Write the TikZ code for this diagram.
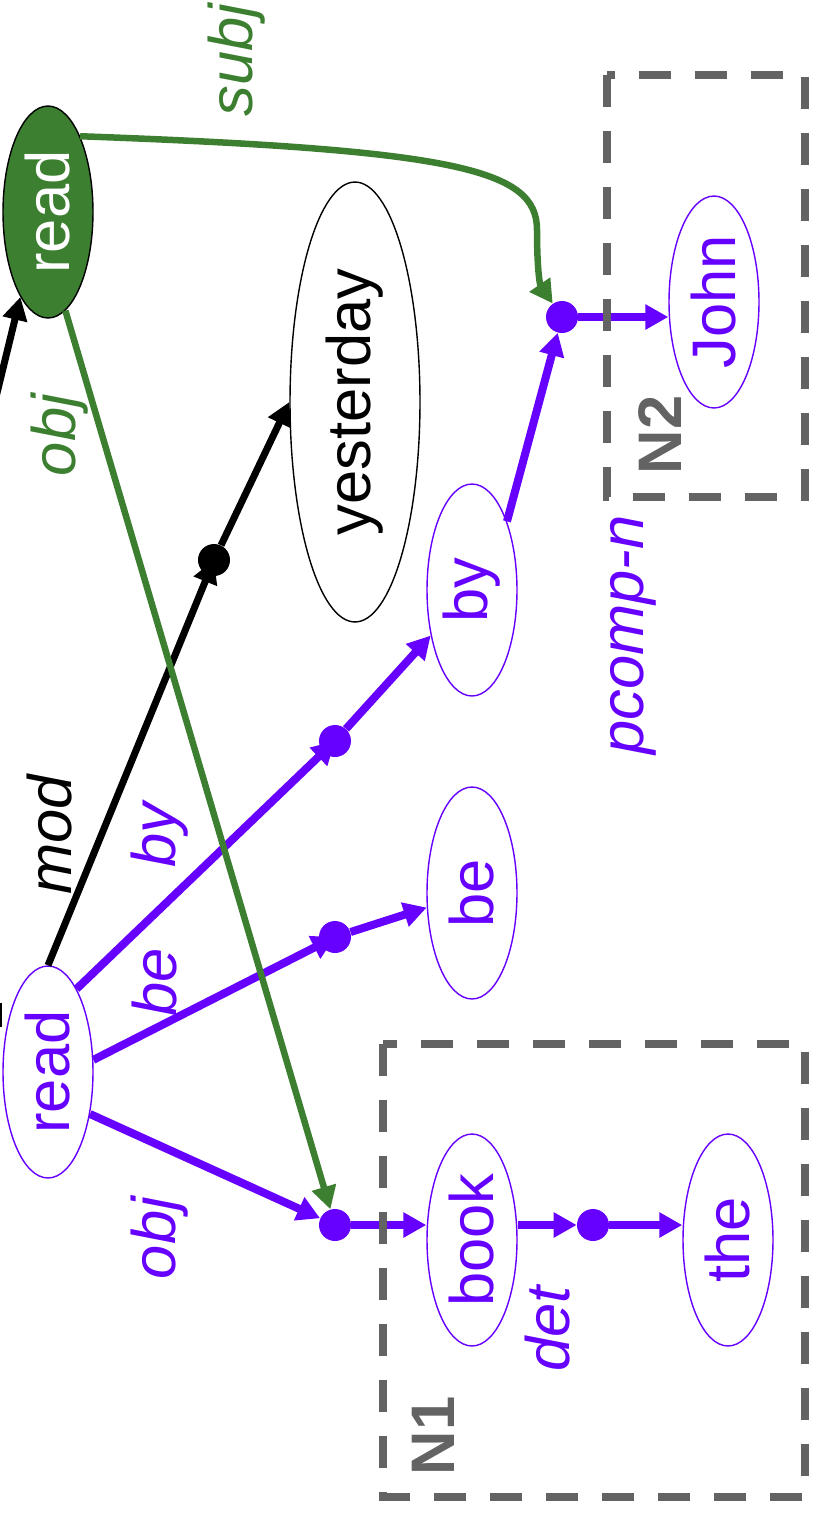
\documentclass[tikz,border=0pt]{standalone}
\usepackage{fontspec}
\setmainfont{Liberation Sans}
\usepackage{graphicx}
\usetikzlibrary{shapes.geometric,arrows.meta}

\definecolor{dpurple}{HTML}{6600FF}
\definecolor{dgreen}{HTML}{3D7F31}
\definecolor{dgray}{HTML}{636363}

\begin{document}
\begin{tikzpicture}[x=0.02cm,y=-0.02cm,
  word/.style={ellipse,draw=dpurple,line width=0.8pt,text=dpurple,inner sep=0pt,
    minimum width=1.8cm,minimum height=4.24cm,font=\fontsize{35}{42}\selectfont},
  hub/.style={circle,fill=dpurple,inner sep=0pt,minimum size=0.64cm},
  rel/.style={rotate=90,font=\fontsize{35}{42}\selectfont\itshape},
  dep/.style={line width=0.14cm,-{Triangle[length=0.46cm,width=0.48cm]}},
  pdep/.style={dep,dpurple,line width=0.16cm},
  chunk/.style={draw=dgray,line width=0.16cm,dash pattern=on 0.64cm off 0.48cm},
  boxname/.style={rotate=90,text=dgray,font=\fontsize{35}{40}\selectfont\bfseries}]
  \clip (0,0) rectangle (813,1515);

  % words
  \node[word,fill=dgreen,draw=black,text=white] (read1) at (48,212) {\rotatebox{90}{read}};
  \node[word] (read2) at (48,1072) {\rotatebox{90}{read}};
  \node[word,draw=black,text=black,minimum width=2.6cm,minimum height=8.8cm] (yest) at (355,402) {\rotatebox{90}{yesterday}};
  \node[word] (by) at (472,590) {\rotatebox{90}{by}};
  \node[word] (be) at (472,893) {\rotatebox{90}{be}};
  \node[word] (book) at (472,1240) {\rotatebox{90}{book}};
  \node[word] (the) at (728,1240) {\rotatebox{90}{the}};
  \node[word] (john) at (714,302) {\rotatebox{90}{John}};

  % hubs
  \node[hub,fill=black] (hmod) at (214,560) {};
  \node[hub] (hby) at (335,741) {};
  \node[hub] (hbe) at (335,937) {};
  \node[hub] (hobj) at (335,1225) {};
  \node[hub] (hdet) at (593,1225) {};
  \node[hub] (hpc) at (562,317) {};

  % off-picture ends
  \coordinate (offin) at (-12,430);
  \coordinate (offa) at (-1,1003);
  \coordinate (offb) at (-1,1027);

  \draw[dep] (offin) -- (read1.-108);
  \draw[line width=0.14cm] (offa) -- (offb);
  \draw[dep] (read2.north) -- (hmod.center);
  \draw[dep] (hmod) -- (yest.west);
  \draw[pdep] (read2.71) -- (hby.center);
  \draw[pdep] (hby) -- (by);
  \draw[pdep] (read2.15) -- (hbe.center);
  \draw[pdep] (hbe) -- (be);
  \draw[pdep] (read2.-45) -- (hobj);
  \draw[pdep] (hobj) -- (hobj -| book.west);
  \draw[pdep] (hdet -| book.east) -- (hdet);
  \draw[pdep] (hdet) -- (hdet -| the.west);
  \draw[pdep] (by.63) -- (hpc);
  \draw[pdep] (hpc) -- (hpc -| john.west);
  \draw[dep,dgreen,line width=0.13cm] (read1.-80) -- (hobj);
  \draw[dep,dgreen,line width=0.13cm] (read1.67) .. controls (460,150) and (537,170) .. (537,230)
    .. controls (537,270) and (540,285) .. (hpc);

  % labels
  \node[rel,dgreen] (lsubj) at (237,60) {subj};
  \node[rel,dgreen] (lobj1) at (60,435) {obj};
  \node[rel] (lmod) at (50,835) {mod};
  \node[rel,dpurple] (lby) at (160,835) {by};
  \node[rel,dpurple] (lbe) at (155,982) {be};
  \node[rel,dpurple] (lobj2) at (160,1238) {obj};
  \node[rel,dpurple] (ldet) at (548,1329) {det};
  \node[rel,dpurple] (lpc) at (633,635) {pcomp-n};

  % groups
  \draw[chunk] (383,1044) rectangle (805,1497);
  \node[boxname] (n1) at (433,1436) {N1};
  \draw[chunk] (607,75) rectangle (805,497);
  \node[boxname] (n2) at (660,435) {N2};
\end{tikzpicture}
\end{document}
